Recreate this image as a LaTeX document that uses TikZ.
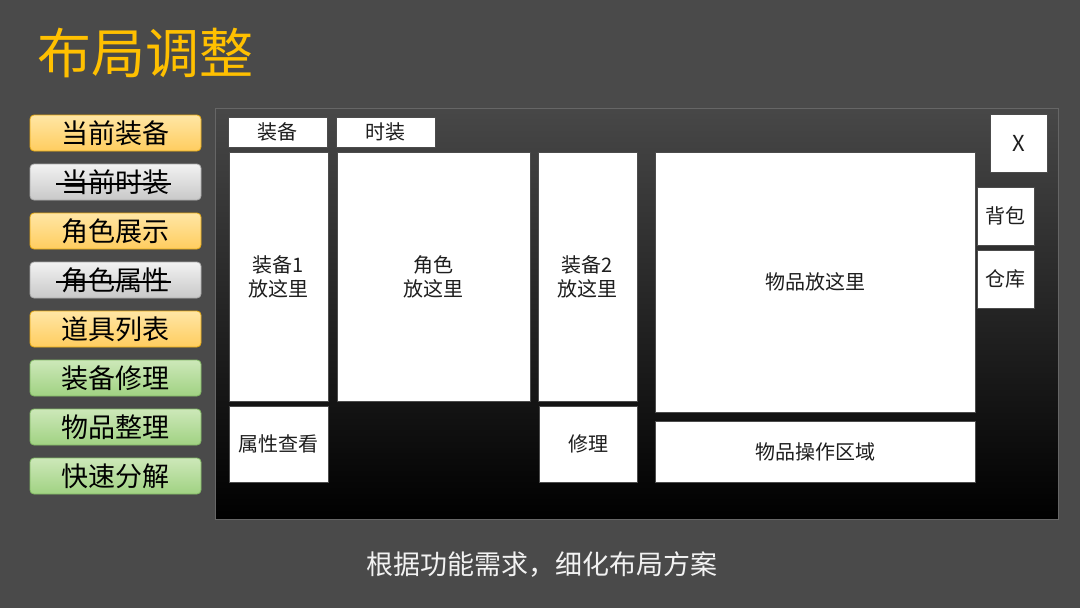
\documentclass[tikz,border=0pt]{standalone}
\usepackage{fontspec}
\setmainfont{Noto Sans CJK SC}
\newfontfamily\cjk{Noto Sans CJK SC}
\definecolor{bgc}{RGB}{74,74,74}
\definecolor{titlec}{RGB}{255,192,0}
\definecolor{orT}{RGB}{255,230,165}
\definecolor{orB}{RGB}{255,205,95}
\definecolor{orD}{RGB}{230,170,20}
\definecolor{grT}{RGB}{242,242,242}
\definecolor{grB}{RGB}{200,200,200}
\definecolor{grD}{RGB}{170,170,170}
\definecolor{gnT}{RGB}{205,232,185}
\definecolor{gnB}{RGB}{160,210,130}
\definecolor{gnD}{RGB}{130,185,100}
\definecolor{txt}{RGB}{30,30,30}
\tikzset{
  btn/.style={rounded corners=4pt, line width=0.8pt, minimum width=171pt, minimum height=36pt, inner sep=0pt, font=\cjk\fontsize{27}{29}\selectfont, text=black},
  orbtn/.style={btn, top color=orT, bottom color=orB, draw=orD},
  grbtn/.style={btn, top color=grT, bottom color=grB, draw=grD},
  gnbtn/.style={btn, top color=gnT, bottom color=gnB, draw=gnD},
  wbox/.style={fill=white, draw=black!70, line width=0.6pt, inner sep=0pt, align=center, text=txt, font=\cjk\fontsize{20}{24}\selectfont},
  strike/.style={line width=1.5pt, black},
}
\newcommand{\wb}[6]{\node[wbox, minimum width=#3pt-#1pt, minimum height=#4pt-#2pt] (#5) at ({(#1+#3)/2},{(#2+#4)/2}) {#6};}
\begin{document}
\begin{tikzpicture}[x=1pt,y=-1pt]
\fill[bgc] (0,0) rectangle (1080,608);
\useasboundingbox (0,0) rectangle (1080,608);
% title
\node[text=titlec, font=\cjk\fontsize{54}{58}\selectfont, anchor=west, inner sep=0pt] (title) at (37,53) {布局调整};
% buttons
\node[orbtn] (b1) at (115.5,133) {当前装备};
\node[grbtn] (b2) at (115.5,182) {当前时装};
\node[orbtn] (b3) at (115.5,231) {角色展示};
\node[grbtn] (b4) at (115.5,280) {角色属性};
\node[orbtn] (b5) at (115.5,329) {道具列表};
\node[gnbtn] (b6) at (115.5,378) {装备修理};
\node[gnbtn] (b7) at (115.5,427) {物品整理};
\node[gnbtn] (b8) at (115.5,476) {快速分解};
\coordinate (s2a) at (56,184); \coordinate (s2b) at (171,184);
\coordinate (s4a) at (56,282); \coordinate (s4b) at (171,282);
\draw[strike] (s2a) -- (s2b);
\draw[strike] (s4a) -- (s4b);
% main panel
\shade[top color=black!72, middle color=black, bottom color=black] (215,108) rectangle (1058,519);
\node[draw=black!60, line width=0.8pt, minimum width=843pt, minimum height=411pt, inner sep=0pt] (panel) at (636.5,313.5) {};
% boxes
\wb{228}{117}{327}{147}{t1}{装备}
\wb{336}{117}{435}{147}{t2}{时装}
\wb{229}{152}{328}{401}{e1}{装备1\\放这里}
\wb{337}{152}{530}{401}{role}{角色\\放这里}
\wb{538}{152}{637}{401}{e2}{装备2\\放这里}
\wb{655}{152}{975}{412}{items}{物品放这里}
\wb{990}{114}{1047}{172}{close}{\fontsize{22}{24}\selectfont X}
\wb{977}{187}{1034}{245}{bag}{背包}
\wb{977}{250}{1034}{308}{store}{仓库}
\wb{229}{406}{328}{482}{attr}{属性查看}
\wb{539}{406}{637}{482}{repair}{修理}
\wb{655}{421}{975}{482}{ops}{物品操作区域}
% caption
\node[text=black!5, font=\cjk\fontsize{27}{29}\selectfont] (cap) at (542,565) {根据功能需求，细化布局方案};
\end{tikzpicture}
\end{document}
